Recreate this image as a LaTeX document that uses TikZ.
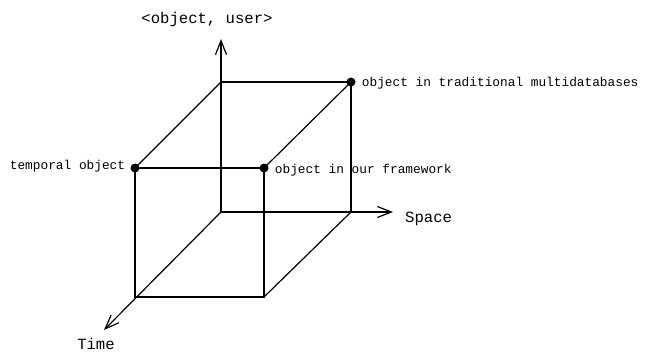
\documentclass[tikz,border=0pt]{standalone}
\usepackage{fontspec}
\setmonofont{Liberation Mono}
\usetikzlibrary{arrows.meta, positioning}

\begin{document}
\begin{tikzpicture}[
  x=1pt, y=-1pt,
  edge/.style={line width=1.2pt},
  axis/.style={edge, -{Straight Barb[length=14pt, width=11pt, line width=1.2pt]}},
  dot/.style={circle, fill=black, inner sep=0pt, minimum size=9pt},
  lbl/.style={font=\ttfamily\fontsize{12.8}{14}\selectfont, inner sep=0pt},
  axlbl/.style={font=\ttfamily\fontsize{15.6}{17}\selectfont, inner sep=0pt}
]
\useasboundingbox (0,0) rectangle (654,353);

% back face
\coordinate (orig) at (221,212);
\coordinate (btl) at (221,82);
\coordinate (bbr) at (351,212);
\node[dot] (trad) at (351,82) {};

% front face
\node[dot] (temp) at (135,168) {};
\node[dot] (frame) at (264,168) {};
\coordinate (fbl) at (135,297);
\coordinate (fbr) at (264,297);

% axes ends
\coordinate (up) at (221,39);
\coordinate (sp) at (393,212);
\coordinate (tm) at (104,330);

\draw[edge] (btl) -- (trad.center) -- (bbr);
\draw[edge] (temp.center) -- (frame.center) -- (fbr) -- (fbl) -- (temp.center);
\draw[edge] (btl) -- (temp.center);
\draw[edge] (trad.center) -- (frame.center);
\draw[edge] (bbr) -- (fbr);

\draw[axis] (orig) -- (up);
\draw[axis] (orig) -- (sp);
\draw[axis] (orig) -- (tm);

\node[axlbl] (ylab) at (207,19) {<object, user>};
\node[axlbl, anchor=west] (slab) at (405,219) {Space};
\node[axlbl] (tlab) at (96,344) {Time};

\node[lbl, left=5pt of temp, yshift=2pt] (templab) {temporal object};
\node[lbl, right=6pt of frame, yshift=-2pt] (framelab) {object in our framework};
\node[lbl, right=6pt of trad, yshift=-1pt] (tradlab) {object in traditional multidatabases};

\end{tikzpicture}
\end{document}
